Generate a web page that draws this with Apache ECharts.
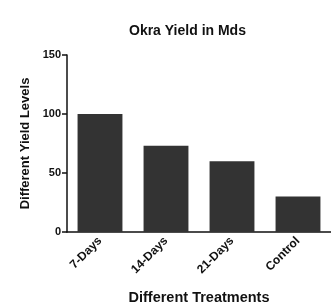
<!DOCTYPE html>
<html>
<head>
<meta charset="utf-8">
<script src="https://cdn.jsdelivr.net/npm/echarts@6/dist/echarts.min.js"></script>
<style>
  html, body { margin: 0; padding: 0; background: #fff; }
  #chart { width: 331px; height: 306px; }
</style>
</head>
<body>
<div id="chart"></div>
<script>
// 处理方式和对应产量
const treatments = ["7-Days", "14-Days", "21-Days", "Control"];
const yieldValues = [100, 73, 60, 30];
const yTicks = [0, 50, 100, 150];

const chart = echarts.init(document.getElementById("chart"));
const font = "Liberation Sans, Arial, sans-serif";

const option = {
  animation: false,
  title: {
    text: "Okra Yield in Mds",
    left: 124,
    top: 19,
    textStyle: { fontFamily: font, fontSize: 14, fontWeight: "bold", color: "#111" },
  },
  grid: {
    left: 67,
    right: 0,
    top: 55,
    bottom: 74,
    outerBoundsMode: "none", // 不让坐标轴文字挤压网格
  },
  xAxis: {
    type: "category",
    data: treatments,
    name: "Different Treatments",
    nameLocation: "middle",
    nameGap: 58,
    nameTextStyle: { fontFamily: font, fontSize: 14.5, fontWeight: "bold", color: "#111" },
    axisLine: { lineStyle: { color: "#111", width: 1.5 } },
    axisTick: { alignWithLabel: true, length: 5, lineStyle: { color: "#111", width: 1.5 } },
    axisLabel: {
      rotate: 45,
      margin: 7,
      fontFamily: font,
      fontSize: 12,
      fontWeight: "bold",
      color: "#111",
    },
  },
  yAxis: {
    type: "value",
    min: yTicks[0],
    max: yTicks[yTicks.length - 1],
    interval: 50,
    name: "Different Yield Levels",
    nameLocation: "middle",
    nameGap: 34,
    nameTextStyle: { fontFamily: font, fontSize: 13, fontWeight: "bold", color: "#111" },
    splitLine: { show: false },
    axisLine: { show: true, lineStyle: { color: "#111", width: 1.5 } },
    axisTick: { show: true, length: 5, lineStyle: { color: "#111", width: 1.5 } },
    axisLabel: {
      margin: 6,
      fontFamily: font,
      fontSize: 11,
      fontWeight: "bold",
      color: "#111",
    },
  },
  series: [
    {
      type: "bar",
      data: yieldValues,
      barCategoryGap: "32%",
      itemStyle: { color: "#333333" },
    },
  ],
};
chart.setOption(option);
</script>
</body>
</html>
